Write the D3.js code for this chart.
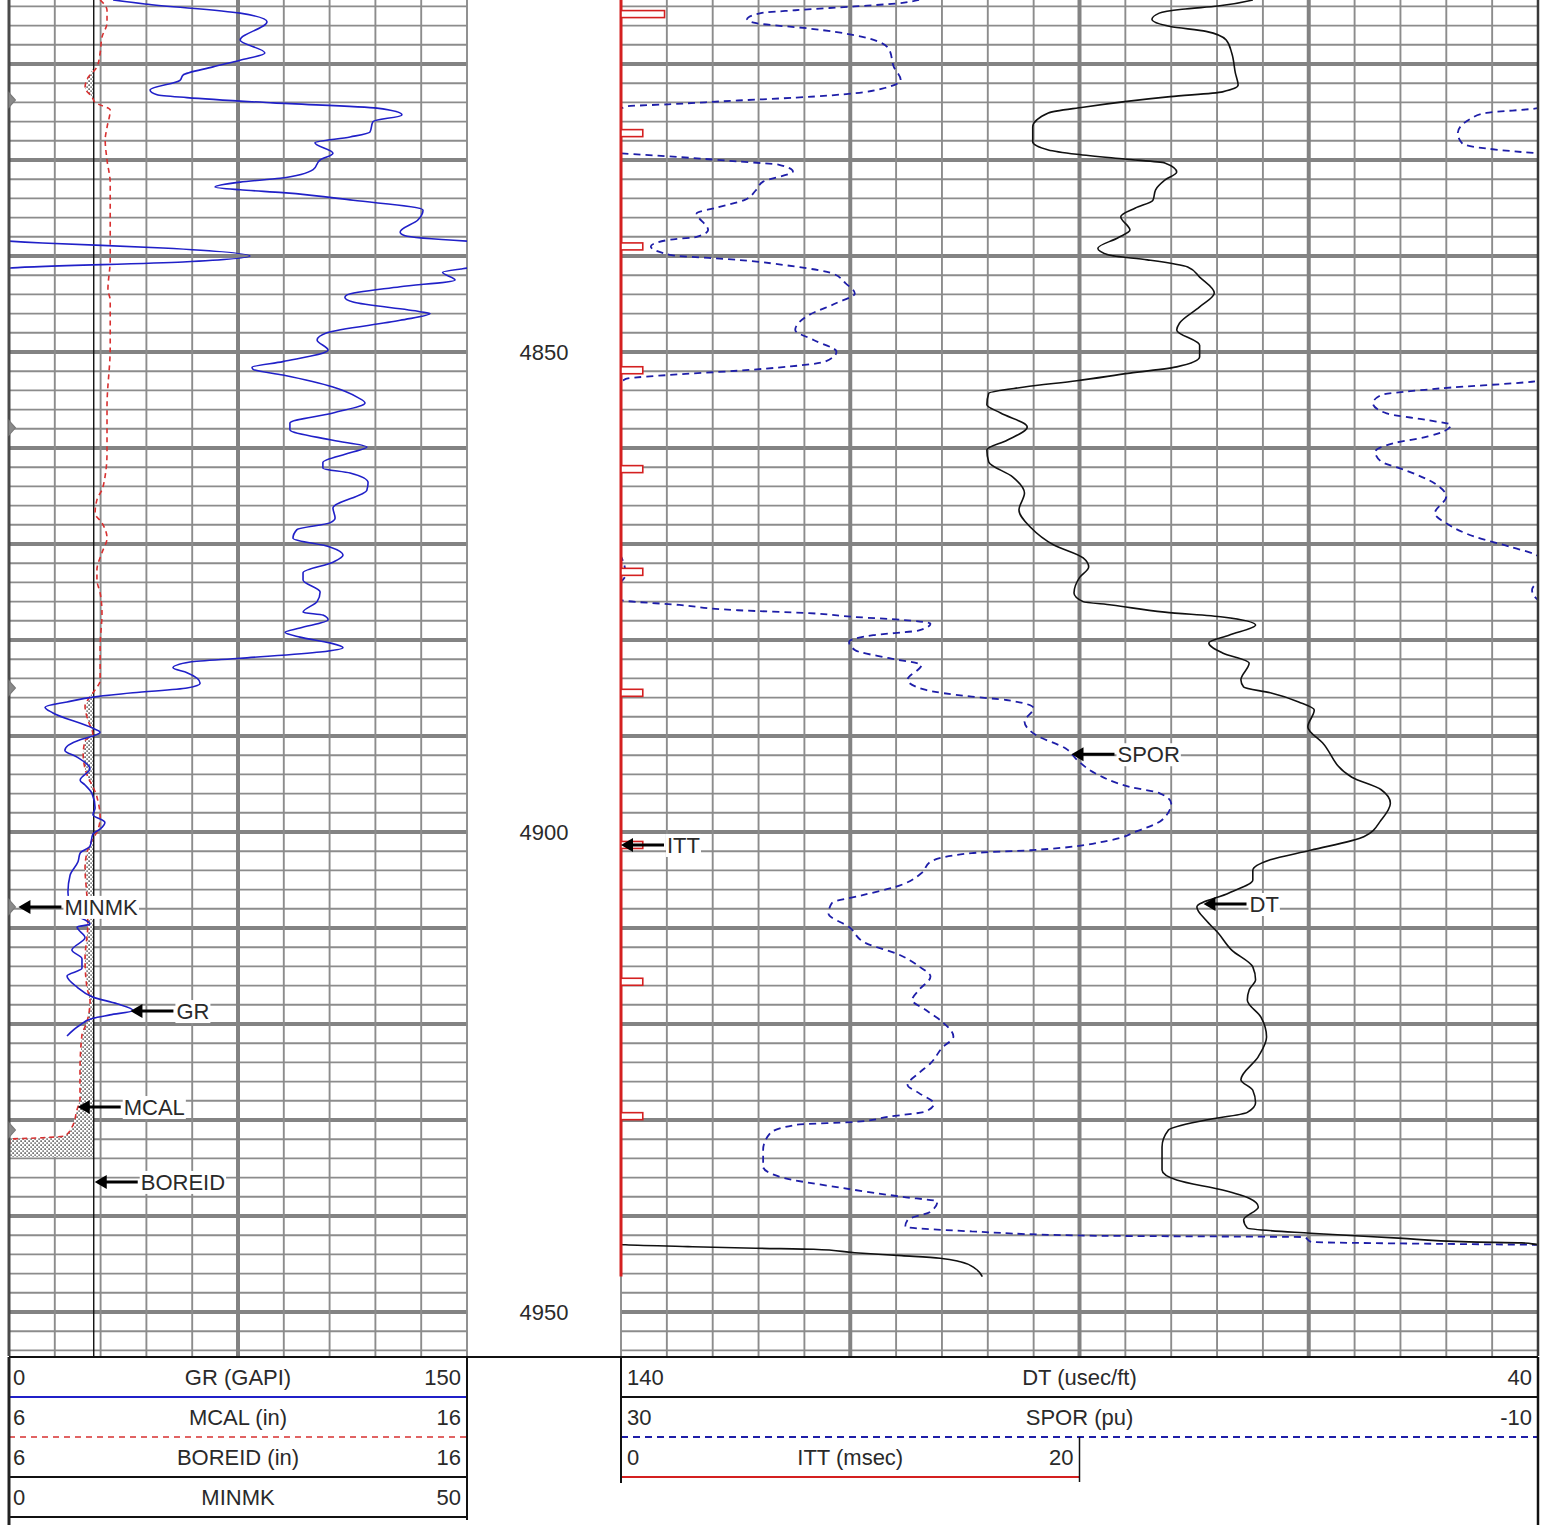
<!DOCTYPE html>
<html><head><meta charset="utf-8">
<script src="https://cdn.jsdelivr.net/npm/d3@7"></script>
<style>body{margin:0;background:#fff;}svg{display:block;font-family:Arial,"Liberation Sans",sans-serif;}</style>
</head><body><svg id="c" width="1554" height="1525"></svg>
<script>
// ---------------- DATA ----------------
const depthTicks = [4850, 4900, 4950];

const grDepth = [4813.33,4813.75,4814.7,4815.6,4817.5,4818.85,4819.6,4820.3,4821.15,4821.7,4822.7,4823.2,4823.5,4824.05,4824.6,4825.3,4826.0,4827.1,4827.6,4828.2,4829.3,4830.0,4831.0,4831.9,4832.3,4832.8,4833.1,4833.4,4834.2,4835.2,4836.25,4837.5,4837.9,4838.64,4839.16,4840.0,4840.62,4841.25,4841.35,4841.7,4842.5,4843.2,4844.05,4844.3,4844.8,4845.8,4846.0,4846.7,4848.0,4848.75,4849.8,4851.0,4851.6,4851.8,4852.4,4853.65,4854.7,4855.3,4856.35,4857.4,4858.1,4859.2,4859.9,4860.5,4861.5,4862.1,4862.6,4863.6,4864.4,4866.25,4867.3,4867.8,4868.5,4869.4,4870.3,4871.15,4871.9,4873.0,4873.75,4875.0,4876.0,4877.1,4877.4,4877.9,4878.75,4879.2,4879.7,4880.3,4880.8,4881.25,4881.9,4882.3,4882.9,4883.4,4884.5,4885.0,4885.5,4885.9,4886.45,4887.0,4887.6,4889.2,4889.6,4890.0,4890.4,4891.5,4892.2,4893.4,4894.6,4895.1,4896.0,4897.5,4898.2,4899.0,4899.7,4900.2,4901.5,4902.2,4903.1,4904.5,4906.25,4907.6,4908.6,4909.6,4909.9,4911.0,4912.3,4913.2,4914.2,4915.0,4916.15,4917.2,4917.9,4918.6,4919.05,4919.4,4920.1,4921.25];
const grValue = [34.1,44.5,75.7,84.5,75.7,83.8,75.7,66.8,57.0,56.0,46.2,48.5,58.3,86.5,120.5,128.7,119.2,118.2,111.7,100.2,106.1,101.9,99.6,88.8,75.7,67.5,75.7,89.7,112.7,135.6,133.9,128.1,129.7,161,200.4,228.9,207,150.5,148,142,146.1,128.1,110.7,110.0,112.7,134.6,137.9,128.1,104.1,100.9,104.5,89.7,79.6,79.9,89.7,106.1,114.0,116.6,106.1,92.0,92.0,106.1,117.2,111.7,102.8,102.8,111.7,117.6,117.2,106.1,106.8,105.1,94.3,93.0,105.1,109.4,106.1,96.3,96.3,101.9,100.9,96.3,102.8,104.5,95.3,90.4,95.3,105.1,109.4,101.9,75.7,59.3,53.7,58.3,62.6,58.3,40.6,28.8,19.0,11.8,14.4,27.5,29.8,27.5,23.3,18.3,22.3,26.5,23.3,24.9,27.2,28.2,27.5,31.4,29.8,27.5,26.5,23.3,22.6,20.0,19.3,20.0,21.6,26.5,22.3,24.9,20.6,23.9,23.9,19.0,22.3,27.5,35.4,40.6,33.1,27.5,23.3,19.0];

const mcalDepth = [4813.33,4814.4,4815.7,4817.2,4818.85,4820.3,4821.45,4822.5,4823.4,4824.0,4824.8,4826.6,4827.9,4830.0,4832.4,4835.9,4840.4,4843.5,4844.6,4849.5,4855.7,4860.5,4864.1,4865.4,4866.8,4867.8,4869.4,4870.9,4872.7,4873.75,4875.1,4877.2,4880.7,4884.2,4885.2,4885.9,4886.9,4888.3,4889.8,4890.5,4892.0,4893.4,4896.35,4898.5,4900.0,4900.7,4902.2,4903.75,4906.7,4909.9,4911.0,4913.2,4916.15,4917.6,4919.8,4921.25,4924.9,4927.8,4929.0,4930.7,4931.65,4931.85,4932.0,4933.85];
const mcalValue = [7.99,8.14,8.14,8.03,7.99,7.92,7.72,7.66,7.81,7.88,8.21,8.14,8.10,8.14,8.21,8.21,8.21,8.16,8.21,8.21,8.14,8.14,8.05,7.92,7.88,8.03,8.14,8.03,7.92,7.92,7.99,8.03,7.99,7.99,7.88,7.77,7.66,7.72,7.83,7.66,7.62,7.66,7.92,7.99,7.92,7.83,7.70,7.66,7.70,7.72,7.70,7.66,7.70,7.77,7.70,7.59,7.55,7.55,7.48,7.38,7.22,6.74,6.02,6.00];
const boreidValue = 7.85;

const minmkDepth = [4823.75, 4857.9, 4885.0, 4907.8, 4931.05];
const minmkValue = [0.7, 0.7, 0.7, 0.7, 0.7];

const dtDepth = [4813.33,4813.96,4814.3,4814.7,4815.35,4816.1,4816.6,4817.5,4818.85,4820.95,4822.2,4822.9,4823.4,4824.5,4825.1,4826.55,4828.1,4828.95,4829.4,4829.9,4830.3,4831.25,4832.1,4833.1,4834.2,4835.0,4835.9,4837.3,4838.1,4839.2,4839.9,4840.4,4841.15,4842.2,4843.85,4845.3,4847.0,4847.7,4849.3,4850.5,4851.55,4852.2,4853.0,4853.65,4854.3,4855.5,4856.35,4857.8,4859.2,4860.2,4861.45,4863.0,4864.7,4866.45,4868.2,4870.1,4871.45,4872.4,4873.5,4875.1,4876.0,4876.35,4877.1,4877.6,4878.45,4879.5,4880.3,4881.35,4882.4,4884.15,4884.9,4885.5,4886.45,4887.3,4889.05,4890.7,4894.3,4895.6,4897.0,4898.75,4900.5,4901.9,4902.9,4904.0,4905.0,4906.35,4907.8,4909.2,4910.5,4912.3,4914.05,4915.4,4916.45,4917.5,4919.3,4921.35,4923.4,4925.8,4926.9,4928.2,4929.2,4930.0,4931.05,4932.8,4935.2,4936.25,4937.3,4938.15,4939.05,4940.4,4941.25,4941.8,4942.3,4942.7,4942.8,4943.0,4943.19,4943.36,4943.47,4943.82,4944.13,4944.4,4944.76,4945.45,4946.32];
const dtValue = [71.1,74.9,78.8,81.3,82.1,80.1,76.2,74.0,73.4,73.0,72.7,74.4,80.1,89.6,93.4,95.1,95.1,93.4,90.3,85.1,80.7,79.4,80.7,81.7,82.0,83.9,85.5,84.5,85.8,88.0,86.8,82.6,78.2,76.9,75.3,76.9,79.1,79.4,76.9,76.9,79.4,84.5,90.3,96.0,99.9,100.1,98.6,95.7,97.9,100.1,99.9,97.3,96.0,96.6,95.4,92.8,89.6,89.0,90.0,90.6,89.6,86.5,80.7,74.4,70.8,73.7,75.9,74.4,71.5,72.4,72.1,69.2,66.1,64.4,65.1,63.5,60.3,57.1,56.1,57.1,59.0,64.8,69.2,71.1,71.1,73.7,77.2,76.2,74.9,73.4,71.1,70.8,71.5,71.7,70.2,69.6,70.5,72.4,71.1,70.8,71.7,76.2,80.3,81.0,81.0,79.4,74.4,71.5,70.5,72.1,71.7,64.8,55.2,47.5,41.8,39.5,32.7,25.3,19.0,14.5,9.4,5.2,3.0,1.4,0.6];

const sporDepth = [4813.33,4813.7,4814.0,4814.4,4814.7,4815.35,4815.75,4816.3,4817.0,4817.65,4818.5,4820.3,4821.65,4822.5,4823.05,4823.5,4823.8,4824.2,4824.4,4824.6,4825.1,4825.65,4827.2,4828.3,4828.95,4829.3,4829.7,4830.15,4830.5,4831.2,4832.25,4833.1,4834.15,4835.0,4835.55,4837.3,4838.0,4838.33,4839.0,4839.9,4840.4,4841.1,4841.8,4842.85,4843.9,4844.9,4846.15,4847.7,4848.75,4849.97,4851.0,4851.5,4851.95,4852.4,4852.75,4853.0,4853.8,4854.5,4855.35,4856.4,4857.1,4857.6,4858.8,4859.5,4860.4,4861.4,4862.3,4863.7,4865.05,4866.8,4867.85,4869.25,4870.3,4871.3,4873.2,4874.8,4875.83,4876.35,4876.9,4877.2,4877.6,4877.9,4878.3,4879.0,4879.5,4880.2,4881.05,4881.9,4882.6,4884.15,4885.2,4885.9,4886.25,4887.1,4888.5,4889.9,4891.3,4892.5,4893.9,4895.3,4895.97,4897.0,4898.75,4899.97,4900.83,4901.9,4902.2,4903.1,4904.3,4905.7,4906.6,4907.4,4908.5,4909.9,4911.6,4912.65,4914.0,4915.05,4916.45,4917.5,4918.55,4919.75,4921.3,4922.5,4924.1,4925.1,4926.35,4927.2,4928.3,4929.1,4929.65,4930.2,4930.5,4931.4,4933.1,4934.85,4935.9,4937.1,4938.0,4938.5,4939.55,4940.4,4941.1,4941.6,4942.05,4942.2,4942.7,4942.9,4943.0];
const sporValue = [17.0,18.0,19.8,22.4,23.9,24.5,24.1,21.8,19.8,18.8,18.3,18.1,17.8,18.5,19.8,22.35,24.9,27.95,29.7,30.0,32.25,32.9,33.5,33.3,31.7,30.0,27.45,24.9,23.1,22.5,23.8,24.1,24.6,25.9,26.7,26.2,26.7,27.95,28.7,27.8,24.9,22.4,20.8,20.2,19.8,20.6,21.8,22.4,21.6,20.6,21.1,22.6,24.9,27.95,29.7,30.0,34.3,36.85,37.2,36.6,34.8,33.8,34.8,36.3,37.1,36.85,35.8,34.5,34.0,34.5,34.0,32.75,31.2,30.0,29.8,30.26,30.0,27.45,24.9,21.8,19.8,17.75,16.5,17.0,19.0,20.05,19.8,18.3,16.9,17.5,16.7,14.7,13.2,12.0,12.4,11.9,10.6,10.1,9.3,7.8,6.5,6.0,6.4,7.55,8.6,12.15,14.7,16.5,16.9,18.0,19.5,20.8,20.95,20.05,19.3,18.0,17.0,16.5,17.0,17.3,16.7,16.0,15.5,16.0,16.5,17.0,17.5,17.0,16.35,16.7,18.3,19.8,22.35,23.5,23.8,23.8,23.1,20.3,17.75,16.2,16.5,17.5,17.6,14.7,9.6,0.2,-0.1,-5.7,-10.0];

const ittTopDepth = 4813.33, ittBottomDepth = 4946.3;
const ittPipDepth = [4814.8,4827.2,4839.0,4851.9,4862.2,4872.9,4885.5,4901.35,4915.6,4929.6];
const ittPipValue = [1.9,0.95,0.95,0.95,0.95,0.95,0.95,0.95,0.95,0.95];

const leftHeader = [
  {name:"GR (GAPI)", lo:"0", hi:"150"},
  {name:"MCAL (in)", lo:"6", hi:"16"},
  {name:"BOREID (in)", lo:"6", hi:"16"},
  {name:"MINMK", lo:"0", hi:"50"}];
const rightHeader = [
  {name:"DT (usec/ft)", lo:"140", hi:"40"},
  {name:"SPOR (pu)", lo:"30", hi:"-10"},
  {name:"ITT (msec)", lo:"0", hi:"20"}];

const curveLabels = [
  {text:"MINMK", curve:"MINMK", depth:4907.8},
  {text:"GR", curve:"GR", depth:4918.65},
  {text:"MCAL", curve:"MCAL", depth:4928.65},
  {text:"BOREID", curve:"BOREID", depth:4936.45},
  {text:"ITT", curve:"ITT", depth:4901.35},
  {text:"SPOR", curve:"SPOR", depth:4891.9},
  {text:"DT", curve:"DT", depth:4907.5}];

// ---------------- LAYOUT / SCALES ----------------
const svg = d3.select("#c");
const trackTop = 0, trackBot = 1356;
const L = {x0:9, x1:467}, R = {x0:621, x1:1538};
const y = d3.scaleLinear().domain([4813.333, 4954.583]).range([trackTop, trackBot]);
const xGR = d3.scaleLinear().domain([0,150]).range([L.x0, L.x1]);
const xCAL = d3.scaleLinear().domain([6,16]).range([L.x0, L.x1]);
const xMIN = d3.scaleLinear().domain([0,50]).range([L.x0, L.x1]);
const xDT = d3.scaleLinear().domain([140,40]).range([R.x0, R.x1]);
const xSP = d3.scaleLinear().domain([30,-10]).range([R.x0, R.x1]);
const xITT = d3.scaleLinear().domain([0,20]).range([R.x0, (R.x0+R.x1)/2]);

const COL = {gr:"#2020c8", spor:"#1e1ea8", dt:"#111", mcal:"#d83030", itt:"#d42020", grid:"#8c8c8c", gridThick:"#838383", text:"#2a2a2a"};

const defs = svg.append("defs");
defs.append("clipPath").attr("id","clipL").append("rect")
  .attr("x",L.x0).attr("y",trackTop).attr("width",L.x1-L.x0).attr("height",trackBot-trackTop);
defs.append("clipPath").attr("id","clipR").append("rect")
  .attr("x",R.x0).attr("y",trackTop).attr("width",R.x1-R.x0).attr("height",trackBot-trackTop);
const pat = defs.append("pattern").attr("id","stip").attr("patternUnits","userSpaceOnUse")
  .attr("width",4).attr("height",4);
pat.append("rect").attr("width",4).attr("height",4).attr("fill","#fff");
pat.append("rect").attr("x",0.4).attr("y",0.4).attr("width",1.4).attr("height",1.4).attr("fill","#222");
pat.append("rect").attr("x",2.4).attr("y",2.4).attr("width",1.4).attr("height",1.4).attr("fill","#444");

// ---------------- GRID ----------------
const grid = svg.append("g");
const gridDepths = d3.range(4814, 4955, 2);
[[L.x0,L.x1],[R.x0,R.x1]].forEach(([a,b]) => {
  grid.selectAll(null).data(gridDepths).enter().append("line")
    .attr("x1",a).attr("x2",b).attr("y1",d=>y(d)).attr("y2",d=>y(d))
    .attr("stroke",d=>d%10===0?COL.gridThick:COL.grid)
    .attr("stroke-width",d=>d%10===0?4:1.9);
});
const leftV = d3.range(0,151,15);
grid.selectAll(null).data(leftV).enter().append("line")
  .attr("x1",d=>xGR(d)).attr("x2",d=>xGR(d)).attr("y1",trackTop).attr("y2",trackBot)
  .attr("stroke",d=>d===75?COL.gridThick:COL.grid).attr("stroke-width",d=>d===75?4:1.9);
const rightV = d3.range(140,39,-5);
grid.selectAll(null).data(rightV).enter().append("line")
  .attr("x1",d=>xDT(d)).attr("x2",d=>xDT(d)).attr("y1",trackTop).attr("y2",trackBot)
  .attr("stroke",d=>(d===115||d===90||d===65)?COL.gridThick:COL.grid)
  .attr("stroke-width",d=>(d===115||d===90||d===65)?4:1.9);

// ---------------- DEPTH LABELS ----------------
svg.selectAll(null).data(depthTicks).enter().append("text")
  .attr("x",(L.x1+R.x0)/2).attr("y",d=>y(d)+8).attr("text-anchor","middle")
  .attr("font-size",22).attr("fill",COL.text).text(d=>d);

// ---------------- LEFT TRACK CURVES ----------------
const gL = svg.append("g").attr("clip-path","url(#clipL)");
const mcalPts = mcalDepth.map((d,i)=>[d, mcalValue[i]]);
gL.append("path").datum(mcalPts)
  .attr("d", d3.area().y(p=>y(p[0])).x0(p=>xCAL(Math.min(p[1],boreidValue))).x1(()=>xCAL(boreidValue)))
  .attr("fill","url(#stip)");
gL.append("line").attr("x1",xCAL(boreidValue)).attr("x2",xCAL(boreidValue))
  .attr("y1",trackTop).attr("y2",trackBot).attr("stroke","#111").attr("stroke-width",1.4);
gL.append("path").datum(mcalPts)
  .attr("d", d3.line().x(p=>xCAL(p[1])).y(p=>y(p[0])).curve(d3.curveMonotoneY))
  .attr("fill","none").attr("stroke",COL.mcal).attr("stroke-width",1.6).attr("stroke-dasharray","5,4");
const grPts = grDepth.map((d,i)=>[d, grValue[i]]);
[0,-150].forEach(s=>{
  gL.append("path").datum(grPts)
    .attr("d", d3.line().x(p=>xGR(p[1]+s)).y(p=>y(p[0])).curve(d3.curveMonotoneY))
    .attr("fill","none").attr("stroke",COL.gr).attr("stroke-width",1.6);
});

svg.append("line").attr("x1",L.x0).attr("x2",L.x0).attr("y1",0).attr("y2",1525)
  .attr("stroke","#4a4a4a").attr("stroke-width",3);
svg.selectAll(null).data(minmkDepth.map((d,i)=>[d,minmkValue[i]])).enter().append("path")
  .attr("d",p=>`M${xMIN(0)},${y(p[0]-0.75)}L${xMIN(p[1])},${y(p[0])}L${xMIN(0)},${y(p[0]+0.75)}Z`)
  .attr("fill","#8a8a8a").attr("stroke","#7a7a7a").attr("stroke-width",1.2);

// ---------------- RIGHT TRACK CURVES ----------------
const gR = svg.append("g").attr("clip-path","url(#clipR)");
const sporPts = sporDepth.map((d,i)=>[d, sporValue[i]]);
[0,-40].forEach(s=>{
  gR.append("path").datum(sporPts)
    .attr("d", d3.line().x(p=>xSP(p[1]+s)).y(p=>y(p[0])).curve(d3.curveMonotoneY))
    .attr("fill","none").attr("stroke",COL.spor).attr("stroke-width",1.8).attr("stroke-dasharray","7,5");
});
const dtPts = dtDepth.map((d,i)=>[d, dtValue[i]]);
[0,100].forEach(s=>{
  gR.append("path").datum(dtPts)
    .attr("d", d3.line().x(p=>xDT(p[1]+s)).y(p=>y(p[0])).curve(d3.curveMonotoneY))
    .attr("fill","none").attr("stroke",COL.dt).attr("stroke-width",1.6);
});
svg.append("line").attr("x1",xITT(0)).attr("x2",xITT(0)).attr("y1",y(ittTopDepth)).attr("y2",y(ittBottomDepth))
  .attr("stroke",COL.itt).attr("stroke-width",3);
svg.selectAll(null).data(ittPipDepth.map((d,i)=>[d,ittPipValue[i]])).enter().append("rect")
  .attr("x",xITT(0)).attr("y",p=>y(p[0])-3.5).attr("width",p=>xITT(p[1])-xITT(0)).attr("height",7)
  .attr("fill","#fff").attr("stroke",COL.itt).attr("stroke-width",1.6);
svg.append("line").attr("x1",R.x1).attr("x2",R.x1).attr("y1",0).attr("y2",1525)
  .attr("stroke","#3a3a3a").attr("stroke-width",2.5);

// ---------------- CURVE LABELS ----------------
function interp(ds, vs, d){
  for(let i=1;i<ds.length;i++){ if(ds[i]>=d){ const t=(d-ds[i-1])/(ds[i]-ds[i-1]); return vs[i-1]+t*(vs[i]-vs[i-1]); } }
  return vs[vs.length-1];
}
function tipX(lab){
  switch(lab.curve){
    case "MINMK": return xMIN(minmkValue[0])+3;
    case "GR": return xGR(interp(grDepth,grValue,lab.depth));
    case "MCAL": return xCAL(interp(mcalDepth,mcalValue,lab.depth));
    case "BOREID": return xCAL(boreidValue)+1;
    case "ITT": return xITT(0);
    case "SPOR": return xSP(interp(sporDepth,sporValue,lab.depth));
    case "DT": return xDT(interp(dtDepth,dtValue,lab.depth));
  }
}
const gLab = svg.append("g");
curveLabels.forEach(lab=>{
  const tx = tipX(lab), ty = y(lab.depth);
  const t = gLab.append("text").attr("x",tx+46).attr("y",ty+8).attr("font-size",22)
    .attr("fill",COL.text).text(lab.text);
  const bb = t.node().getBBox();
  gLab.insert("rect","text").attr("x",bb.x-1).attr("y",bb.y+1).attr("width",bb.width+2).attr("height",bb.height-2).attr("fill","#fff");
  gLab.append("line").attr("x1",tx+9).attr("x2",tx+43).attr("y1",ty).attr("y2",ty).attr("stroke","#000").attr("stroke-width",3);
  gLab.append("path").attr("d",`M${tx},${ty}L${tx+12},${ty-7}L${tx+12},${ty+7}Z`).attr("fill","#000");
});

// ---------------- HEADER ----------------
const hTop = 1357, rowH = 40;
const hg = svg.append("g");
hg.append("rect").attr("x",0).attr("y",trackBot).attr("width",1554).attr("height",1525-trackBot).attr("fill","#fff");
hg.append("line").attr("x1",L.x0).attr("x2",R.x1).attr("y1",hTop).attr("y2",hTop).attr("stroke","#111").attr("stroke-width",2);
leftHeader.forEach((h,i)=>{
  const base = hTop + i*rowH + 28;
  hg.append("text").attr("x",L.x0+4).attr("y",base).attr("font-size",22).attr("fill",COL.text).text(h.lo);
  hg.append("text").attr("x",(L.x0+L.x1)/2).attr("y",base).attr("text-anchor","middle").attr("font-size",22).attr("fill",COL.text).text(h.name);
  hg.append("text").attr("x",L.x1-6).attr("y",base).attr("text-anchor","end").attr("font-size",22).attr("fill",COL.text).text(h.hi);
});
const lStyles = [{c:COL.gr,dash:null,w:2},{c:COL.mcal,dash:"6,5",w:1.6},{c:"#111",dash:null,w:2},{c:"#111",dash:null,w:2}];
lStyles.forEach((s,i)=>{
  const yy = hTop + (i+1)*rowH;
  const ln = hg.append("line").attr("x1",L.x0).attr("x2",L.x1).attr("y1",yy).attr("y2",yy).attr("stroke",s.c).attr("stroke-width",s.w);
  if(s.dash) ln.attr("stroke-dasharray",s.dash);
});
hg.append("line").attr("x1",L.x1).attr("x2",L.x1).attr("y1",hTop).attr("y2",hTop+4*rowH+3).attr("stroke","#111").attr("stroke-width",2);
hg.append("line").attr("x1",L.x0).attr("x2",L.x0).attr("y1",hTop).attr("y2",1525).attr("stroke","#222").attr("stroke-width",3);
rightHeader.forEach((h,i)=>{
  const base = hTop + i*rowH + 28;
  const xr = i===2 ? xITT(20) : R.x1;
  hg.append("text").attr("x",R.x0+6).attr("y",base).attr("font-size",22).attr("fill",COL.text).text(h.lo);
  hg.append("text").attr("x",(R.x0+xr)/2).attr("y",base).attr("text-anchor","middle").attr("font-size",22).attr("fill",COL.text).text(h.name);
  hg.append("text").attr("x",xr-6).attr("y",base).attr("text-anchor","end").attr("font-size",22).attr("fill",COL.text).text(h.hi);
});
hg.append("line").attr("x1",R.x0).attr("x2",R.x1).attr("y1",hTop+rowH).attr("y2",hTop+rowH).attr("stroke","#111").attr("stroke-width",2);
hg.append("line").attr("x1",R.x0).attr("x2",R.x1).attr("y1",hTop+2*rowH).attr("y2",hTop+2*rowH).attr("stroke",COL.spor).attr("stroke-width",2).attr("stroke-dasharray","7,5");
hg.append("line").attr("x1",R.x0).attr("x2",xITT(20)).attr("y1",hTop+3*rowH).attr("y2",hTop+3*rowH).attr("stroke",COL.itt).attr("stroke-width",2);
hg.append("line").attr("x1",xITT(20)).attr("x2",xITT(20)).attr("y1",hTop+2*rowH).attr("y2",hTop+3*rowH+5).attr("stroke","#111").attr("stroke-width",1.5);
hg.append("line").attr("x1",R.x0).attr("x2",R.x0).attr("y1",hTop).attr("y2",hTop+3*rowH+6).attr("stroke","#111").attr("stroke-width",2);
hg.append("line").attr("x1",R.x1).attr("x2",R.x1).attr("y1",hTop).attr("y2",1525).attr("stroke","#111").attr("stroke-width",2.5);
</script></body></html>
